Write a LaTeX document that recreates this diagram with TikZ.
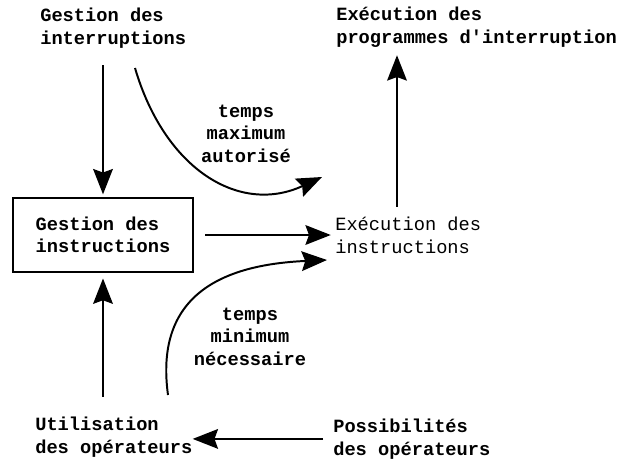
\documentclass[tikz,border=0pt]{standalone}
\usepackage{fontspec}
\newfontfamily\typewriter{Liberation Mono}
\usetikzlibrary{arrows.meta}
\usetikzlibrary{calc}

\begin{document}
\begin{tikzpicture}[x=0.025cm, y=-0.025cm]
                \tikzstyle{typed} = [inner sep=0, align=left, font=\typewriter\bfseries\fontsize{13.3}{16}\selectfont]
                \tikzstyle{flow} = [line width=1.4pt, -{Stealth[length=18pt, width=14pt, inset=2.5pt]}]
                \useasboundingbox (0, 0) rectangle (633, 461);
                \node[typed, anchor=base west] (gi) at (40, 44) {Gestion des\\interruptions};
                \node[typed, anchor=base west] (epi) at (336, 43) {Exécution des\\programmes d'interruption};
                \node[typed, draw, line width=1.2pt, minimum width=4.5cm, minimum height=1.85cm] (gins) at (103, 235) {Gestion des\\instructions};
                \node[typed, anchor=base west, font=\typewriter\fontsize{13.3}{16}\selectfont] (eins) at (335, 253) {Exécution des\\instructions};
                \node[typed, align=center, anchor=base] (tmax) at (246, 162) {temps\\maximum\\autorisé};
                \node[typed, align=center, anchor=base] (tmin) at (250, 365) {temps\\minimum\\nécessaire};
                \node[typed, anchor=base west] (uop) at (35, 453) {Utilisation\\des opérateurs};
                \node[typed, anchor=base west] (pop) at (333, 455) {Possibilités\\des opérateurs};
                \coordinate (maxstart) at (135, 68);
                \coordinate (maxend) at (322, 177);
                \coordinate (minstart) at (168, 395);
                \coordinate (minend) at (327, 260);
                \draw[flow, shorten <=12pt, shorten >=2pt] (gi.south -| gins.north) -- (gins.north);
                \draw[flow] (maxstart) .. controls (165, 170) and (240, 215) .. (maxend);
                \draw[flow, shorten <=8pt, shorten >=3pt] (gins.east) -- (gins.east -| eins.west);
                \draw[flow] ($(eins.north west)+(62,-10)$) -- ($(eins.north west |- epi.south)+(62,8)$);
                \draw[flow] (minstart) .. controls (155, 300) and (215, 265) .. (minend);
                \draw[flow, shorten <=7pt] (pop.west) -- (pop.west -| uop.east);
                \draw[flow, shorten <=14pt, shorten >=4pt] (uop.north -| gins.south) -- (gins.south);
            \end{tikzpicture}
\end{document}
